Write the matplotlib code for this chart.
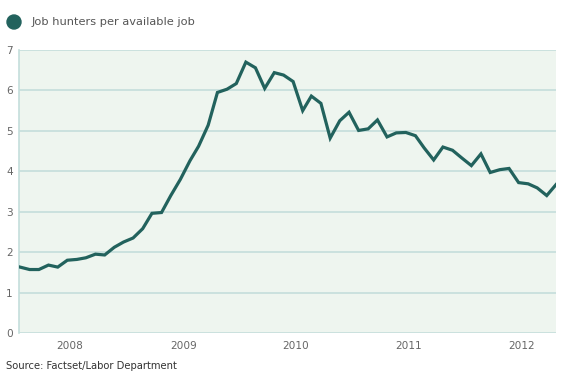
import numpy as np
import pandas as pd
import matplotlib
matplotlib.use("Agg")
import matplotlib.pyplot as plt
import matplotlib.dates as mdates
from matplotlib.patches import Ellipse

# monthly, Aug 2007 - May 2012
months = pd.date_range("2007-08-01", periods=58, freq="MS")
hunters = [1.63, 1.57, 1.57, 1.68, 1.63, 1.80, 1.82, 1.86, 1.95, 1.93,
           2.12, 2.25, 2.35, 2.58, 2.96, 2.98, 3.40, 3.80, 4.26, 4.62,
           5.14, 5.95, 6.03, 6.17, 6.70, 6.56, 6.05, 6.44, 6.38, 6.22,
           5.50, 5.86, 5.68, 4.82, 5.25, 5.46, 5.01, 5.05, 5.27, 4.85,
           4.95, 4.96, 4.88, 4.58, 4.28, 4.60, 4.52, 4.33, 4.14, 4.43,
           3.97, 4.04, 4.07, 3.72, 3.69, 3.59, 3.40, 3.67]
yticks = [0, 1, 2, 3, 4, 5, 6, 7]
years = [2008, 2009, 2010, 2011, 2012]

line_col = "#22625d"
grid_col = "#c4dedb"
bg_col = "#eef5ef"
txt_col = "#666666"

fig = plt.figure(figsize=(5.64, 3.81), dpi=100)
ax = fig.add_axes([18.5 / 564, 48 / 381, 537.5 / 564, 283 / 381])
ax.set_facecolor(bg_col)

ax.plot(months, hunters, color=line_col, lw=2.3, solid_joinstyle="miter", zorder=3)

ax.set_ylim(0, 7)
ax.set_xlim(months[0] - pd.Timedelta(days=5), months[-1])
ax.set_yticks(yticks)
ax.yaxis.grid(True, color=grid_col, lw=1.2)
ax.set_axisbelow(True)

ax.set_xticks([pd.Timestamp(f"{y}-01-10") for y in years])
ax.xaxis.set_major_formatter(mdates.DateFormatter("%Y"))

for s in ["top", "right", "bottom"]:
    ax.spines[s].set_visible(False)
ax.spines["left"].set_color(grid_col)
ax.spines["left"].set_linewidth(1.2)
ax.tick_params(axis="both", length=0, labelsize=7.6, labelcolor=txt_col)
ax.tick_params(axis="y", pad=4)
ax.tick_params(axis="x", pad=6)

# legend marker and label
fig.patches.append(Ellipse((14 / 564, 1 - 22 / 381), 14 / 564, 14 / 381,
                           transform=fig.transFigure, color=line_col))
fig.text(32 / 564, 1 - 22 / 381, "Job hunters per available job",
         fontsize=8.2, color="#555555", va="center", ha="left")

fig.text(6 / 564, 1 - 366 / 381, "Source: Factset/Labor Department",
         fontsize=7.2, color="#333333", va="center", ha="left")

fig.savefig("out.png", dpi=100, facecolor="white")
